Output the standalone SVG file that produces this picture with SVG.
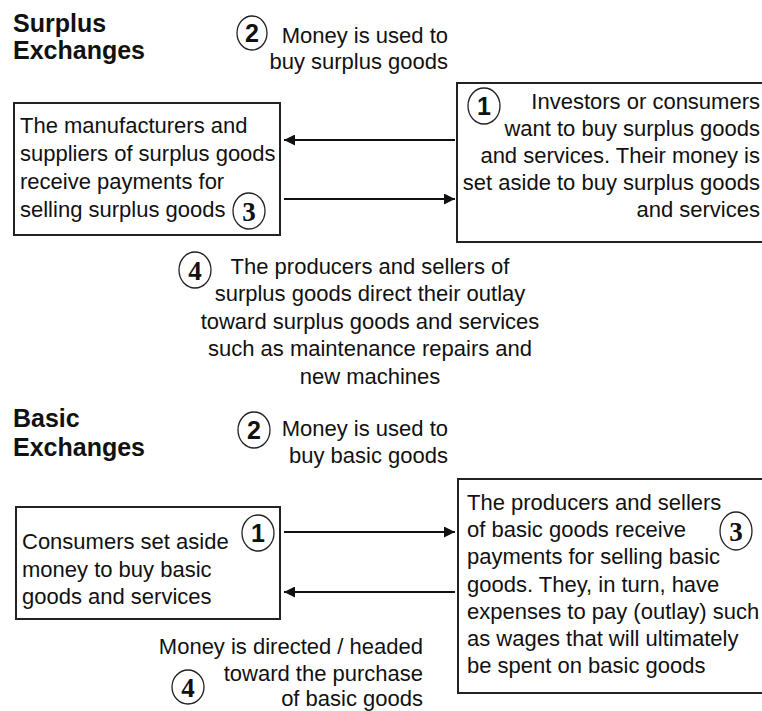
<svg xmlns="http://www.w3.org/2000/svg" width="762" height="711" viewBox="0 0 762 711">
  <defs>
    <style>
      .t { font-family: "Liberation Sans", Arial, sans-serif; font-size: 22px; fill: #111; }
      .h { font-family: "Liberation Sans", Arial, sans-serif; font-size: 25px; font-weight: bold; fill: #111; }
      .box { fill: #fff; stroke: #222; stroke-width: 2; }
      .ring { fill: none; stroke: #222; stroke-width: 1.3; }
      .n { font-family: "Liberation Sans", Arial, sans-serif; font-size: 25px; font-weight: bold; fill: #111; text-anchor: middle; }
      .ns { font-family: "Liberation Serif", "Times New Roman", serif; font-size: 27px; font-weight: bold; fill: #111; text-anchor: middle; }
      .flow { stroke: #111; stroke-width: 2; fill: none; marker-end: url(#head); }
      .r { text-anchor: end; }
      .c { text-anchor: middle; }
    </style>
    <marker id="head" viewBox="0 0 10 10" refX="10" refY="5" markerWidth="11" markerHeight="11" markerUnits="userSpaceOnUse" orient="auto">
      <path d="M0,0 L10,5 L0,10 z" fill="#111"/>
    </marker>
  </defs>
  <rect width="762" height="711" fill="#fff"/>

  <!-- Surplus exchanges -->
  <g id="title-surplus">
    <text class="h" x="13" y="32">Surplus</text>
    <text class="h" x="13" y="59">Exchanges</text>
  </g>

  <g id="surplus-step2">
    <ellipse class="ring" cx="252" cy="33" rx="15" ry="17"/>
    <text class="n" x="252" y="42">2</text>
    <text class="t r" x="448" y="43">Money is used to</text>
    <text class="t r" x="448" y="69">buy surplus goods</text>
  </g>

  <g id="surplus-makers">
    <rect class="box" x="14" y="103" width="266" height="132"/>
    <text class="t" x="20" y="133">The manufacturers and</text>
    <text class="t" x="20" y="161">suppliers of surplus goods</text>
    <text class="t" x="20" y="189">receive payments for</text>
    <text class="t" x="20" y="217">selling surplus goods</text>
    <ellipse class="ring" cx="249" cy="211" rx="16" ry="18"/>
    <text class="ns" x="249" y="221">3</text>
  </g>

  <g id="surplus-investors">
    <rect class="box" x="457" y="83" width="320" height="159"/>
    <ellipse class="ring" cx="484" cy="106" rx="16" ry="18"/>
    <text class="n" x="484" y="115">1</text>
    <text class="t r" x="760" y="109">Investors or consumers</text>
    <text class="t r" x="760" y="136">want to buy surplus goods</text>
    <text class="t r" x="760" y="163">and services. Their money is</text>
    <text class="t r" x="760" y="190">set aside to buy surplus goods</text>
    <text class="t r" x="760" y="217">and services</text>
  </g>

  <g id="surplus-step4">
    <ellipse class="ring" cx="195" cy="270" rx="16" ry="18"/>
    <text class="ns" x="195" y="280">4</text>
    <text class="t c" x="370" y="274">The producers and sellers of</text>
    <text class="t c" x="370" y="301">surplus goods direct their outlay</text>
    <text class="t c" x="370" y="329">toward surplus goods and services</text>
    <text class="t c" x="370" y="356">such as maintenance repairs and</text>
    <text class="t c" x="370" y="384">new machines</text>
  </g>

  <!-- Basic exchanges -->
  <g id="title-basic">
    <text class="h" x="13" y="427">Basic</text>
    <text class="h" x="13" y="456">Exchanges</text>
  </g>

  <g id="basic-step2">
    <ellipse class="ring" cx="254" cy="430" rx="16" ry="18"/>
    <text class="n" x="254" y="439">2</text>
    <text class="t r" x="448" y="436">Money is used to</text>
    <text class="t r" x="448" y="463">buy basic goods</text>
  </g>

  <g id="basic-consumers">
    <rect class="box" x="16" y="507" width="264" height="112"/>
    <ellipse class="ring" cx="258" cy="533" rx="16" ry="18"/>
    <text class="n" x="258" y="542">1</text>
    <text class="t" x="22" y="549">Consumers set aside</text>
    <text class="t" x="22" y="577">money to buy basic</text>
    <text class="t" x="22" y="604">goods and services</text>
  </g>

  <g id="basic-producers">
    <rect class="box" x="458" y="479" width="320" height="214"/>
    <text class="t" x="467" y="510">The producers and sellers</text>
    <text class="t" x="467" y="537">of basic goods receive</text>
    <text class="t" x="467" y="564">payments for selling basic</text>
    <text class="t" x="467" y="592">goods. They, in turn, have</text>
    <text class="t" x="467" y="619">expenses to pay (outlay) such</text>
    <text class="t" x="467" y="646">as wages that will ultimately</text>
    <text class="t" x="467" y="673">be spent on basic goods</text>
    <ellipse class="ring" cx="736" cy="531" rx="16" ry="19"/>
    <text class="ns" x="736" y="541">3</text>
  </g>

  <g id="basic-step4">
    <text class="t r" x="423" y="654">Money is directed / headed</text>
    <text class="t r" x="423" y="681">toward the purchase</text>
    <text class="t r" x="423" y="706">of basic goods</text>
    <ellipse class="ring" cx="188" cy="687" rx="16" ry="17"/>
    <text class="ns" x="188" y="697">4</text>
  </g>

  <!-- Money flows between the boxes -->
  <g id="connectors">
    <line class="flow" x1="455" y1="140" x2="284" y2="140"/>
    <line class="flow" x1="284" y1="199" x2="455" y2="199"/>
    <line class="flow" x1="284" y1="532" x2="455" y2="532"/>
    <line class="flow" x1="455" y1="592" x2="284" y2="592"/>
  </g>
</svg>
